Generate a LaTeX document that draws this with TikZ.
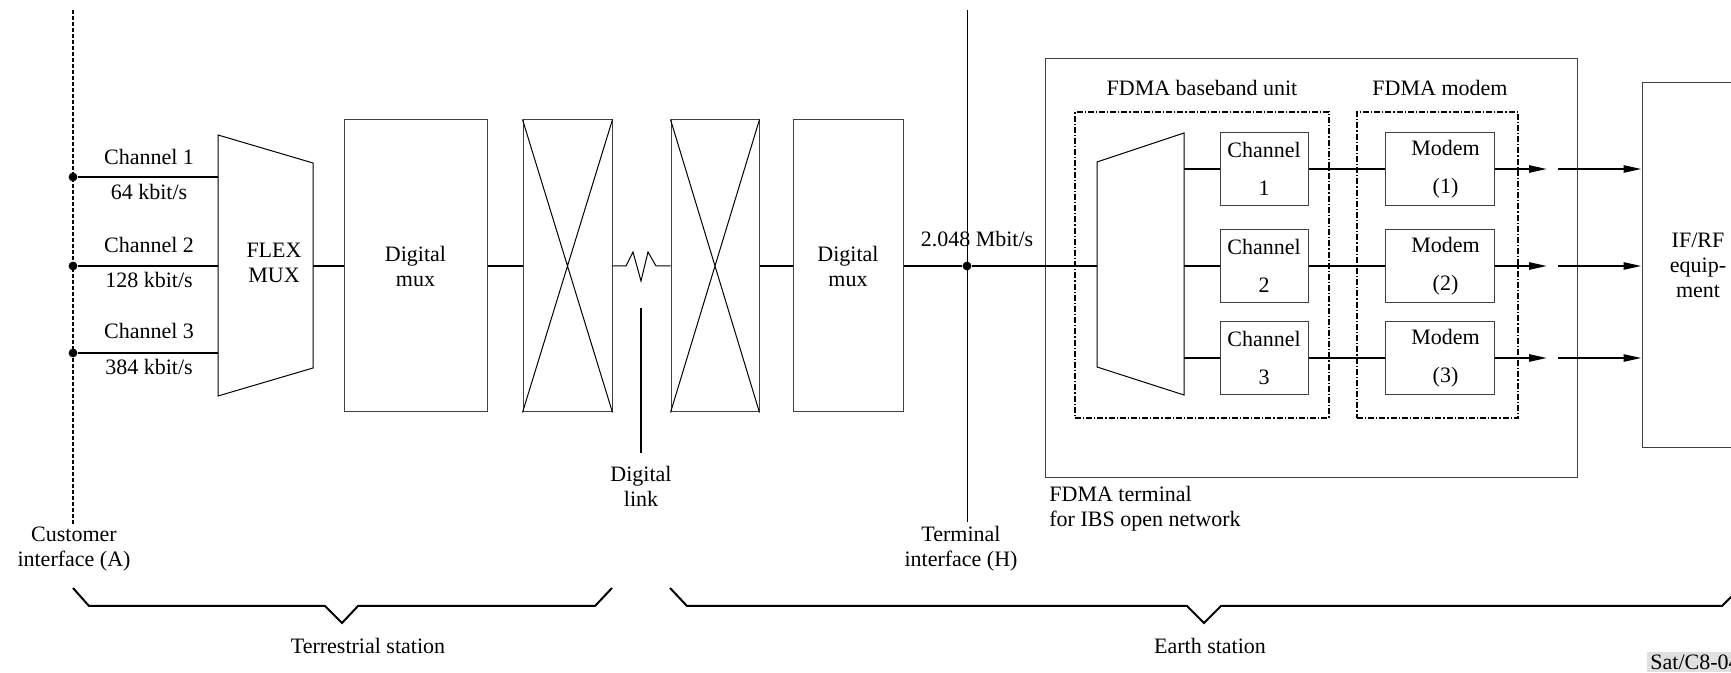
\documentclass[tikz,border=0pt]{standalone}
\usepackage{fontspec}
\setmainfont{Liberation Serif}
\usetikzlibrary{arrows.meta}

\begin{document}
\begin{tikzpicture}[x=0.5pt,y=-0.5pt,
  font=\fontsize{11}{12.5}\selectfont,
  unitbox/.style={draw=black!75, line width=0.5pt, inner sep=0pt, align=center},
  pxsize/.style 2 args={minimum width=#1*0.5pt, minimum height=#2*0.5pt},
  sigline/.style={line width=1pt},
  thinline/.style={line width=0.5pt},
  groupbox/.style={draw, line width=0.6pt, dash pattern=on 3pt off 1pt on 0.6pt off 1pt},
  custline/.style={line width=1pt, dash pattern=on 2pt off 1pt},
  brace/.style={line width=1pt},
  feed/.style={line width=1pt, -{Triangle[length=9pt,width=3.6pt]}},
  junction/.style={circle, fill, inner sep=0pt, minimum size=4.4pt},
  lbl/.style={inner sep=0pt, align=center}]
\useasboundingbox (0,0) rectangle (1731,673);
\node[unitbox, pxsize={143}{292}] (dmuxa) at (415.5,266) {Digital\\mux};
\node[unitbox, pxsize={89}{292}] (xa) at (567.5,266) {};
\node[unitbox, pxsize={88}{292}] (xb) at (715,266) {};
\node[unitbox, pxsize={110}{292}] (dmuxb) at (848,266) {Digital\\mux};
\node[unitbox, pxsize={532}{419}] (term) at (1311,268.5) {};
\node[groupbox, pxsize={254}{306}] (bbu) at (1202,265) {};
\node[groupbox, pxsize={161}{306}] (mdm) at (1437.5,265) {};
\node[unitbox, pxsize={112}{365}] (ifrf) at (1698,265.5) {IF/RF\\equip-\\ment};
\node[unitbox, pxsize={88}{73}] (cb1) at (1264,169) {Channel\\[6.5pt]1};
\node[unitbox, pxsize={88}{73}] (cb2) at (1264,266) {Channel\\[6.5pt]2};
\node[unitbox, pxsize={88}{73}] (cb3) at (1264,358) {Channel\\[6.5pt]3};
\node[unitbox, pxsize={109}{73}] (md1) at (1439.5,169) {\hspace*{6pt}Modem\\[6.5pt]\hspace*{6pt}(1)};
\node[unitbox, pxsize={109}{73}] (md2) at (1439.5,266) {\hspace*{6pt}Modem\\[6.5pt]\hspace*{6pt}(2)};
\node[unitbox, pxsize={109}{73}] (md3) at (1439.5,358) {\hspace*{6pt}Modem\\[6.5pt]\hspace*{6pt}(3)};
\draw[thinline] (xa.north west) -- (xa.south east) (xa.north east) -- (xa.south west);
\draw[thinline] (xb.north west) -- (xb.south east) (xb.north east) -- (xb.south west);
\draw[thinline] (218,135) -- (313,163) -- (313,368) -- (218,396) -- cycle;
\draw[thinline] (1097,162) -- (1184,133) -- (1184,395) -- (1097,367) -- cycle;
\node[lbl] (flex) at (274,263) {FLEX\\MUX};
\coordinate (custtop) at (73,10);
\coordinate (custbot) at (73,525);
\draw[custline] (custtop) -- (custbot);
\node[junction] (c1) at (73,177) {};
\node[junction] (c2) at (73,266) {};
\node[junction] (c3) at (73,353) {};
\coordinate (flexin1) at (218,177);
\coordinate (flexin2) at (218,266);
\coordinate (flexin3) at (218,353);
\coordinate (flexout) at (313,266);
\draw[sigline] (c1) -- (flexin1);
\draw[sigline] (c2) -- (flexin2);
\draw[sigline] (c3) -- (flexin3);
\node[lbl] (chl1) at (149,157) {Channel 1};
\node[lbl] (rate1) at (149,192) {64 kbit/s};
\node[lbl] (chl2) at (149,245) {Channel 2};
\node[lbl] (rate2) at (149,280) {128 kbit/s};
\node[lbl] (chl3) at (149,331) {Channel 3};
\node[lbl] (rate3) at (149,367) {384 kbit/s};
\draw[sigline] (flexout) -- (dmuxa.west);
\draw[sigline] (dmuxa.east) -- (xa.west);
\draw[thinline] (xa.east) -- (626,266) -- (633,252) -- (641,281) -- (648,252) -- (656,266) -- (xb.west);
\draw[sigline] (xb.east) -- (dmuxb.west);
\coordinate (linktip) at (641,308);
\node[lbl, inner sep=6pt] (linklbl) at (641,486) {Digital\\link};
\draw[sigline] (linktip) -- (linklbl.north);
\coordinate (htop) at (967,10);
\coordinate (hbot) at (967,522);
\draw[thinline] (htop) -- (hbot);
\node[junction] (hdot) at (967,266) {};
\coordinate (muxin) at (1097,266);
\draw[sigline] (dmuxb.east) -- (hdot) -- (muxin);
\node[lbl] (ratehi) at (977,239) {2.048 Mbit/s};
\coordinate (muxo1) at (1184,169);
\coordinate (muxo2) at (1184,266);
\coordinate (muxo3) at (1184,358);
\draw[sigline] (muxo1) -- (cb1.west);
\draw[sigline] (muxo2) -- (cb2.west);
\draw[sigline] (muxo3) -- (cb3.west);
\draw[sigline] (cb1.east) -- (md1.west);
\draw[sigline] (cb2.east) -- (md2.west);
\draw[sigline] (cb3.east) -- (md3.west);
\coordinate (a1) at (1547,169);
\coordinate (a2) at (1547,266);
\coordinate (a3) at (1547,358);
\coordinate (b1) at (1558,169);
\coordinate (b2) at (1558,266);
\coordinate (b3) at (1558,358);
\draw[feed] (md1.east) -- (a1);
\draw[feed] (md2.east) -- (a2);
\draw[feed] (md3.east) -- (a3);
\draw[feed] (b1) -- (ifrf.west |- b1);
\draw[feed] (b2) -- (ifrf.west |- b2);
\draw[feed] (b3) -- (ifrf.west |- b3);
\node[lbl] (bbulbl) at (1202,88) {FDMA baseband unit};
\node[lbl] (mdmlbl) at (1440,88) {FDMA modem};
\node[lbl, anchor=north west, align=left] (termlbl) at (1049,486) {FDMA terminal\\for IBS open network};
\node[lbl] (custlbl) at (74,549) {Customer\\interface (A)};
\node[lbl] (hlbl) at (961,549) {Terminal\\interface (H)};
\draw[brace] (73,588) -- (89,606) -- (325,606) -- (342,623) -- (358,606) -- (595,606) -- (612,588);
\draw[brace] (670,588) -- (687,606) -- (1187,606) -- (1204,623) -- (1221,606) -- (1722,606) -- (1740,588);
\node[lbl] (terrlbl) at (368,646) {Terrestrial station};
\node[lbl] (earthlbl) at (1210,646) {Earth station};
\node[fill=black!12, inner sep=1.5pt, anchor=west] (satref) at (1647,662) {Sat/C8-04};
\end{tikzpicture}
\end{document}
